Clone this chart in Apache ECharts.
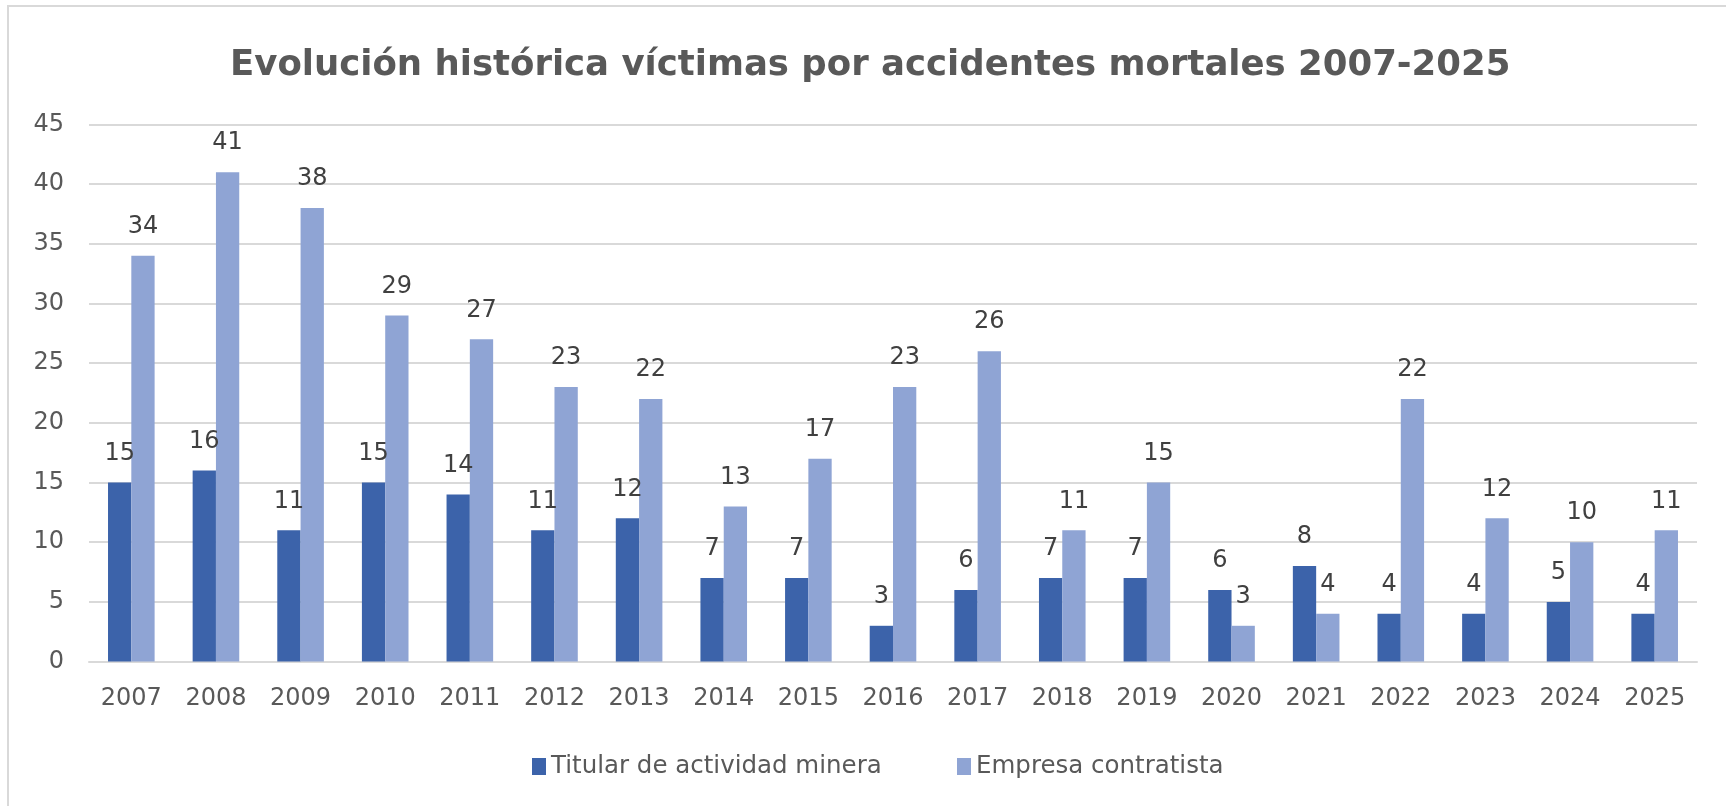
<!DOCTYPE html>
<html>
<head>
<meta charset="utf-8">
<script src="https://cdn.jsdelivr.net/npm/echarts@6/dist/echarts.min.js"></script>
<style>
html,body{margin:0;padding:0;background:#fff;}
#c{width:1726px;height:806px;}
</style>
</head>
<body>
<div id="c"></div>
<script>
const titleText = 'Evolución histórica víctimas por accidentes mortales 2007-2025';
const years = ['2007','2008','2009','2010','2011','2012','2013','2014','2015','2016','2017','2018','2019','2020','2021','2022','2023','2024','2025'];
const seriesNames = ['Titular de actividad minera','Empresa contratista'];
const titular = [15,16,11,15,14,11,12,7,7,3,6,7,7,6,8,4,4,5,4];
const contratista = [34,41,38,29,27,23,22,13,17,23,26,11,15,3,4,22,12,10,11];

const FONT = '"DejaVu Sans", "Open Sans", sans-serif';
const chart = echarts.init(document.getElementById('c'), null, {renderer:'canvas'});
const labelCfg = {show:true, position:'top', distance:17, color:'#404040', fontSize:24, fontFamily:FONT};
const legendCommon = {top:749, itemWidth:14, itemHeight:17, icon:'rect',
    textStyle:{fontFamily:FONT, fontSize:24.5, color:'#595959'}};
chart.setOption({
  backgroundColor:'#fff',
  animation:false,
  title:{text:titleText, left:225, top:43, textStyle:{fontFamily:FONT, fontWeight:'bold', fontSize:35.5, color:'#595959'}},
  legend:[
    Object.assign({data:[seriesNames[0]], left:527}, legendCommon),
    Object.assign({data:[seriesNames[1]], left:952}, legendCommon)
  ],
  grid:{left:89, right:29, top:124.4, bottom:144.4, containLabel:false},
  xAxis:{type:'category', data:years,
    axisLine:{show:true, lineStyle:{color:'#D9D9D9', width:2}},
    axisTick:{show:false},
    axisLabel:{color:'#595959', fontSize:24, fontFamily:FONT, margin:25}},
  yAxis:{type:'value', min:0, max:45, interval:5,
    axisLine:{show:false}, axisTick:{show:false},
    splitLine:{lineStyle:{color:'#D9D9D9', width:2}},
    axisLabel:{color:'#595959', fontSize:24, fontFamily:FONT, margin:25}},
  series:[
    {name:seriesNames[0], type:'bar', data:titular, barWidth:23.3, barGap:'0%', barCategoryGap:'45%',
     itemStyle:{color:'#3C63AA'}, label:labelCfg},
    {name:seriesNames[1], type:'bar', data:contratista, barWidth:23.3, barGap:'0%', barCategoryGap:'45%',
     itemStyle:{color:'#8FA4D4'}, label:labelCfg}
  ],
  graphic:[{type:'rect', shape:{x:8, y:6, width:1740, height:820}, style:{fill:null, stroke:'#D9D9D9', lineWidth:2}, z:-1}]
});
</script>
</body>
</html>
